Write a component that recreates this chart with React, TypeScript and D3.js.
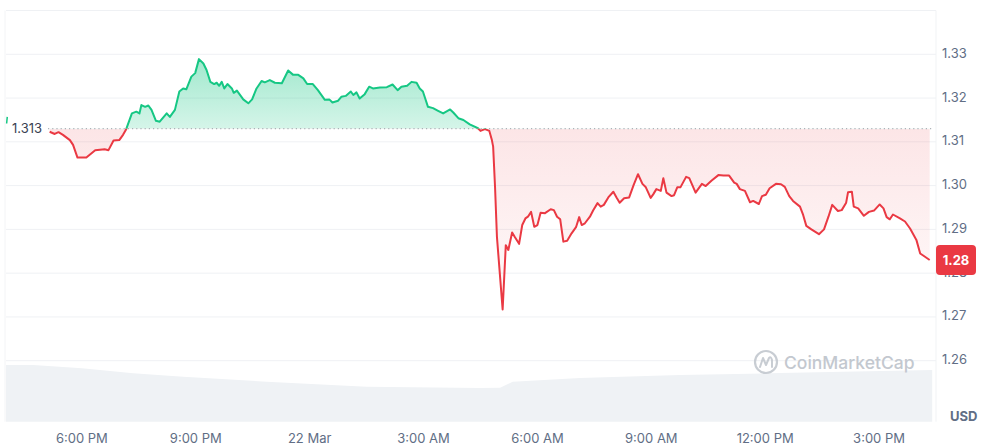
import React from "react";
import * as d3 from "d3";

// minutes from 21 Mar 6:00 PM
const priceTimes = [-51,-43,-37,-30,-19,-14,-7,7,21,36,42,50,59,65,70,79,86,91,94,100,105,110,117,123,134,139,147,154,160,165,173,179,185,192,197,203,209,213,217,221,225,230,237,240,245,255,263,269,276,284,289,297,305,316,326,334,342,350,356,365,373,384,391,396,405,410,417,425,429,434,439,447,454,460,471,482,491,499,505,514,521,529,534,539,547,555,563,571,582,587,595,603,613,626,630,637,644,648,650,653,656,665,670,674,680,684,691,696,701,705,710,715,720,725,732,741,746,751,756,761,767,774,781,786,790,795,803,808,815,820,825,832,840,845,850,857,865,872,879,886,891,899,903,908,915,919,924,932,936,941,946,955,960,970,980,986,995,1006,1014,1023,1031,1035,1040,1048,1056,1061,1070,1075,1081,1087,1097,1105,1111,1118,1124,1135,1140,1145,1153,1165,1173,1180,1186,1195,1201,1208,1211,1217,1220,1227,1236,1244,1252,1261,1267,1272,1277,1282,1293,1301,1309,1319,1325,1332,1340];
const prices = [1.3123,1.3118,1.3122,1.3116,1.3104,1.3093,1.3064,1.3064,1.3081,1.3083,1.3081,1.3103,1.3104,1.3116,1.3129,1.3165,1.3169,1.3165,1.3184,1.318,1.3183,1.3173,1.3148,1.3146,1.3165,1.3157,1.3173,1.3215,1.3222,1.322,1.3249,1.3257,1.3289,1.3279,1.3264,1.3237,1.3232,1.3235,1.3228,1.3237,1.3222,1.3232,1.3222,1.3212,1.3217,1.3197,1.3188,1.3197,1.3222,1.3239,1.3236,1.3241,1.3235,1.3234,1.3263,1.3253,1.3253,1.3245,1.3232,1.3232,1.3218,1.3196,1.3197,1.319,1.3194,1.3203,1.3205,1.3215,1.3207,1.3213,1.3199,1.3209,1.3226,1.3222,1.3224,1.3225,1.3231,1.3218,1.3226,1.3228,1.3237,1.3235,1.3222,1.3215,1.318,1.3177,1.3171,1.3165,1.3174,1.3167,1.3154,1.315,1.314,1.3131,1.3125,1.3129,1.3125,1.3104,1.3089,1.2997,1.2883,1.2717,1.2864,1.2853,1.2893,1.2883,1.2867,1.291,1.2925,1.2929,1.294,1.2906,1.291,1.2938,1.2937,1.2946,1.2944,1.2929,1.2923,1.2872,1.2874,1.2891,1.2905,1.2928,1.291,1.2914,1.2929,1.2943,1.296,1.2952,1.2956,1.2973,1.2986,1.2973,1.2961,1.2971,1.2973,1.3001,1.3026,1.3004,1.2997,1.2972,1.298,1.2992,1.2988,1.3017,1.2984,1.2976,1.2978,1.2996,1.2996,1.302,1.3017,1.2984,1.3004,1.2999,1.3011,1.3024,1.3023,1.3023,1.3007,1.3004,1.2992,1.2988,1.2962,1.2965,1.2958,1.2976,1.2979,1.2994,1.3004,1.3003,1.2997,1.2976,1.2965,1.2952,1.2933,1.2908,1.29,1.2889,1.29,1.2929,1.2956,1.2942,1.2944,1.2961,1.2985,1.2986,1.2952,1.2948,1.2931,1.294,1.2943,1.2957,1.2948,1.2928,1.2923,1.2934,1.2925,1.2918,1.2902,1.2876,1.2845,1.2838,1.283];

const stubTimes = [-119, -118];
const stubPrices = [1.3142, 1.3157];

const volumeTimes = [-120, -77, 0, 81, 160, 292, 450, 629, 661, 681, 787, 945, 1103, 1344];
const volumes = [2.83, 2.83, 2.67, 2.42, 2.25, 2.0, 1.75, 1.68, 1.7, 2.0, 2.18, 2.33, 2.43, 2.58];

const openPrice = 1.313;
const lastPrice = 1.283;

const xTickMinutes = [0, 180, 360, 540, 720, 900, 1080, 1260];
const xTickLabels = ["6:00 PM", "9:00 PM", "22 Mar", "3:00 AM", "6:00 AM", "9:00 AM", "12:00 PM", "3:00 PM"];
const yTicks = [1.26, 1.27, 1.28, 1.29, 1.3, 1.31, 1.32, 1.33, 1.34];

const GREEN = "#16c784";
const RED = "#ea3943";
const FONT = "Inter, 'Noto Sans', sans-serif";

export default function App() {
  const W = 991, H = 448;
  const x = d3.scaleLinear().domain([-120, 1350]).range([6, 936]);
  const y = d3.scaleLinear().domain([1.26, 1.33]).range([360.7, 54.3]);
  const vy = d3.scaleLinear().domain([0, 3]).range([421.7, 361.7]);

  const pts = priceTimes.map((t, i) => ({ t, p: prices[i] }));
  const line = d3.line<any>().x(d => x(d.t)).y(d => y(d.p));
  const area = d3.area<any>().x(d => x(d.t)).y0(y(openPrice)).y1(d => y(d.p));
  const vol = volumeTimes.map((t, i) => ({ t, v: volumes[i] }));
  const vArea = d3.area<any>().x(d => x(d.t)).y0(vy(0)).y1(d => vy(d.v));
  const stub = stubTimes.map((t, i) => ({ t, p: stubPrices[i] }));
  const by = y(openPrice);

  const linePath = line(pts) || "";
  const areaPath = area(pts) || "";

  return (
    <svg width={W} height={H} style={{ position: "absolute", left: 0, top: 0, background: "#fff" }} fontFamily={FONT}>
      <defs>
        <clipPath id="above"><rect x={0} y={0} width={W} height={by} /></clipPath>
        <clipPath id="below"><rect x={0} y={by} width={W} height={H - by} /></clipPath>
        <linearGradient id="gGreen" gradientUnits="userSpaceOnUse" x1={0} y1={y(1.33)} x2={0} y2={by}>
          <stop offset="0" stopColor={GREEN} stopOpacity={0.42} />
          <stop offset="1" stopColor={GREEN} stopOpacity={0.18} />
        </linearGradient>
        <linearGradient id="gRed" gradientUnits="userSpaceOnUse" x1={0} y1={by} x2={0} y2={y(1.27)}>
          <stop offset="0" stopColor={RED} stopOpacity={0.13} />
          <stop offset="1" stopColor={RED} stopOpacity={0.02} />
        </linearGradient>
      </defs>

      {/* volume */}
      <path d={vArea(vol) || ""} fill="#eff2f5" />

      {/* grid */}
      {yTicks.map(v => (
        <line key={v} x1={6} x2={936} y1={y(v)} y2={y(v)} stroke="#eff1f4" strokeWidth={1} />
      ))}
      <line x1={936} x2={936} y1={y(1.34)} y2={421.7} stroke="#f1f3f5" strokeWidth={1} />
      <line x1={5} x2={5} y1={y(1.34)} y2={421.7} stroke="#f3f4f6" strokeWidth={1} />

      {/* areas */}
      <path d={areaPath} fill="url(#gGreen)" clipPath="url(#above)" />
      <path d={areaPath} fill="url(#gRed)" clipPath="url(#below)" />

      {/* baseline */}
      <line x1={48} x2={934} y1={by} y2={by} stroke="#9aa0a8" strokeWidth={1} strokeDasharray="1.2,3" />
      <text x={12} y={by + 1} dominantBaseline="middle" fontSize={13} fill="#3b4252">1.313</text>

      {/* lines */}
      <path d={linePath} fill="none" stroke={GREEN} strokeWidth={2} strokeLinejoin="round" clipPath="url(#above)" />
      <path d={linePath} fill="none" stroke={RED} strokeWidth={2} strokeLinejoin="round" clipPath="url(#below)" />
      <path d={line(stub) || ""} fill="none" stroke={GREEN} strokeWidth={1.5} />

      {/* watermark */}
      <g transform="translate(766,362)" opacity={0.9}>
        <circle r={11} fill="none" stroke="#c3c8cf" strokeWidth={2.2} />
        <path d="M-6,5 L-3,-4 L0,3 L3,-4 Q5,-6 6,-2 L6,5" fill="none" stroke="#c3c8cf" strokeWidth={2} strokeLinejoin="round" strokeLinecap="round" />
      </g>
      <text x={784} y={369} fontSize={17.5} fontWeight={500} fill="#c3c8cf">CoinMarketCap</text>

      {/* y axis labels */}
      {yTicks.filter(v => v < 1.335).map(v => (
        <text key={v} x={942} y={y(v)} dominantBaseline="middle" fontSize={13} fill="#616e85">{v.toFixed(2)}</text>
      ))}
      <text x={950} y={417} dominantBaseline="middle" fontSize={13} fontWeight={700} fill="#616e85">USD</text>

      {/* last price badge */}
      <rect x={936} y={y(lastPrice) - 15} width={40} height={30} rx={4} fill={RED} />
      <text x={956} y={y(lastPrice) + 1} textAnchor="middle" dominantBaseline="middle" fontSize={13} fontWeight={700} fill="#fff">{lastPrice.toFixed(2)}</text>

      {/* x axis labels */}
      {xTickMinutes.map((m, i) => (
        <text key={m} x={x(m)} y={439} textAnchor="middle" dominantBaseline="middle" fontSize={13} fill="#616e85">{xTickLabels[i]}</text>
      ))}
    </svg>
  );
}
